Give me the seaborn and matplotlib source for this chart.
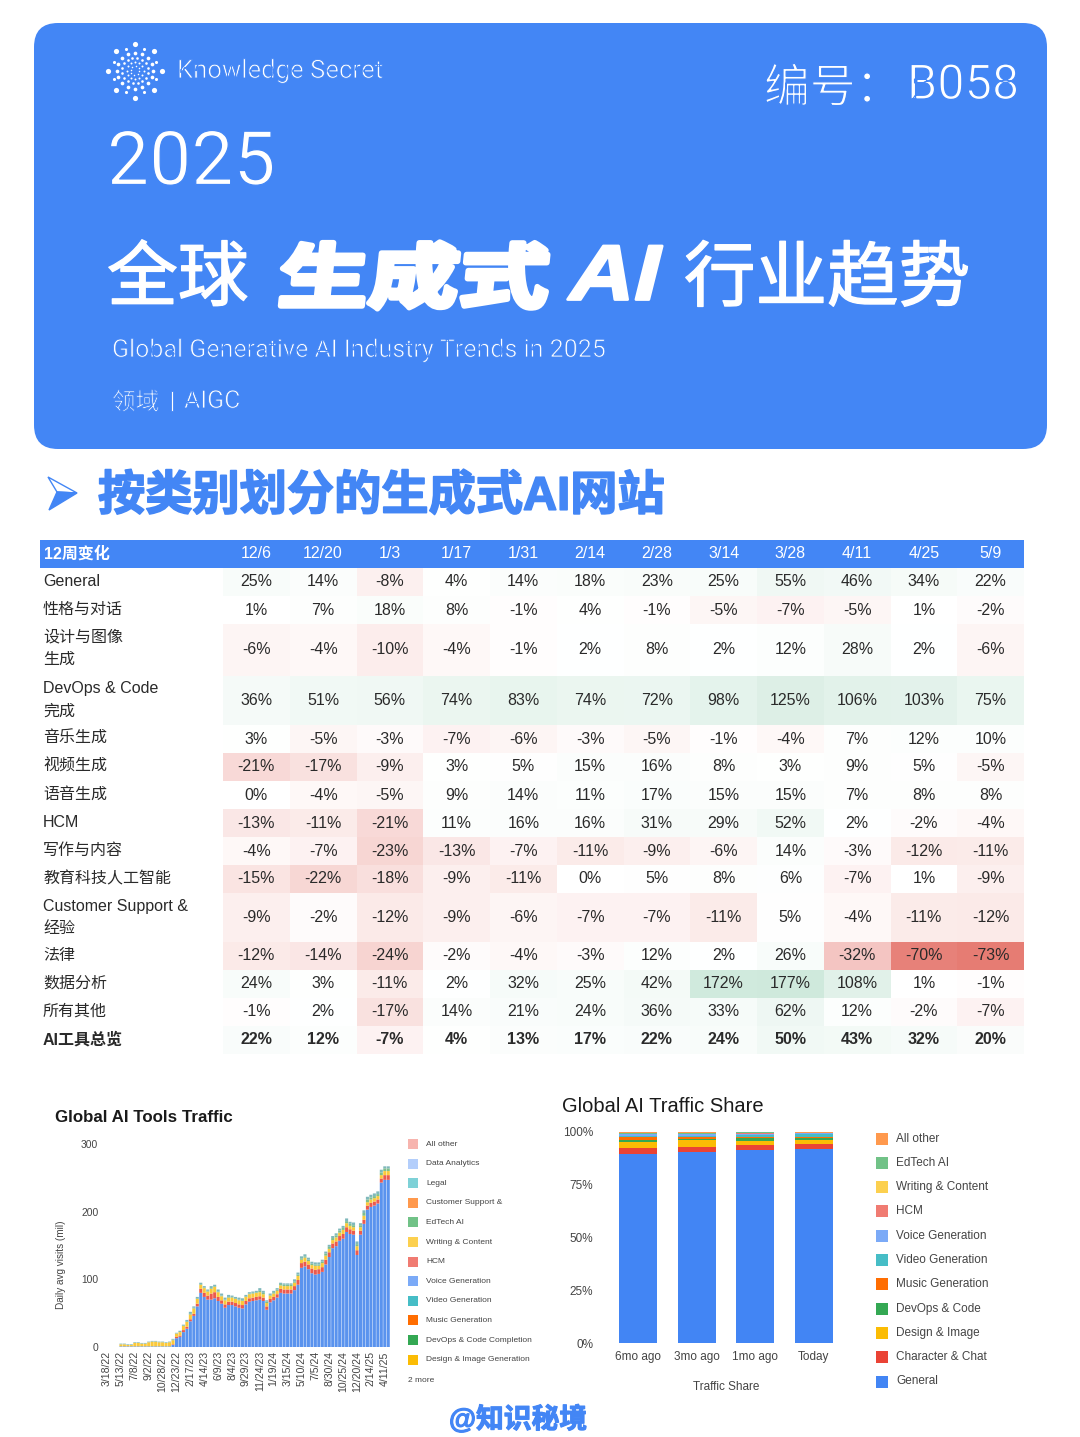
#!/usr/bin/env python3
"""Poster: 2025 global generative AI trends, table plus two traffic charts."""

import numpy as np
import pandas as pd
import matplotlib
matplotlib.use("Agg")
import matplotlib.pyplot as plt
import matplotlib.patheffects as pe
from matplotlib.colors import LinearSegmentedColormap, TwoSlopeNorm
from matplotlib.patches import FancyBboxPatch, Polygon, Rectangle
from matplotlib.transforms import Affine2D
import seaborn as sns

W, H = 1080, 1437
BLUE = "#4386f5"
CJK = ["Liberation Sans", "Noto Sans CJK SC", "DejaVu Sans"]
THIN = ["Roboto", "Noto Sans CJK SC", "DejaVu Sans"]

# 12 week change table
weeks = ["12/6", "12/20", "1/3", "1/17", "1/31", "2/14", "2/28", "3/14", "3/28", "4/11", "4/25", "5/9"]
row_labels = [
    "General", "性格与对话", "设计与图像\n生成", "DevOps & Code\n完成", "音乐生成", "视频生成", "语音生成",
    "HCM", "写作与内容", "教育科技人工智能", "Customer Support &\n经验", "法律", "数据分析", "所有其他", "AI工具总览",
]
general_chg = [25, 14, -8, 4, 14, 18, 23, 25, 55, 46, 34, 22]
character_chg = [1, 7, 18, 8, -1, 4, -1, -5, -7, -5, 1, -2]
design_chg = [-6, -4, -10, -4, -1, 2, 8, 2, 12, 28, 2, -6]
devops_chg = [36, 51, 56, 74, 83, 74, 72, 98, 125, 106, 103, 75]
music_chg = [3, -5, -3, -7, -6, -3, -5, -1, -4, 7, 12, 10]
video_chg = [-21, -17, -9, 3, 5, 15, 16, 8, 3, 9, 5, -5]
voice_chg = [0, -4, -5, 9, 14, 11, 17, 15, 15, 7, 8, 8]
hcm_chg = [-13, -11, -21, 11, 16, 16, 31, 29, 52, 2, -2, -4]
writing_chg = [-4, -7, -23, -13, -7, -11, -9, -6, 14, -3, -12, -11]
edtech_chg = [-15, -22, -18, -9, -11, 0, 5, 8, 6, -7, 1, -9]
support_chg = [-9, -2, -12, -9, -6, -7, -7, -11, 5, -4, -11, -12]
legal_chg = [-12, -14, -24, -2, -4, -3, 12, 2, 26, -32, -70, -73]
analytics_chg = [24, 3, -11, 2, 32, 25, 42, 172, 177, 108, 1, -1]
other_chg = [-1, 2, -17, 14, 21, 24, 36, 33, 62, 12, -2, -7]
total_chg = [22, 12, -7, 4, 13, 17, 22, 24, 50, 43, 32, 20]
table_rows = [
    general_chg, character_chg, design_chg, devops_chg, music_chg, video_chg, voice_chg, hcm_chg,
    writing_chg, edtech_chg, support_chg, legal_chg, analytics_chg, other_chg, total_chg,
]
row_edges = [568, 596, 624, 676, 725, 753, 781, 809, 837, 865, 893, 942, 970, 998, 1026, 1054]

# Global AI Tools Traffic, biweekly bars, first four periods are empty
tick_dates = [
    "3/18/22", "5/13/22", "7/8/22", "9/2/22", "10/28/22", "12/23/22", "2/17/23", "4/14/23", "6/9/23", "8/4/23",
    "9/29/23", "11/24/23", "1/19/24", "3/15/24", "5/10/24", "7/5/24", "8/30/24", "10/25/24", "12/20/24",
    "2/14/25", "4/11/25",
]
visits_general = [
    1, 1, 1, 1, 1, 1, 1, 1, 1, 1, 1, 1, 1, 1, 1, 3,
    13, 15, 22, 27, 38, 46, 60, 80, 74, 70, 70, 72, 68, 64, 58, 62, 62, 60, 58, 57, 63, 67, 68, 69,
    70, 68, 55, 66, 69, 73, 80, 79, 79, 79, 84, 92, 117, 119, 115, 109, 107, 108, 111, 122, 133, 146, 149,
    157, 160, 170, 167, 166, 136, 166, 182, 203, 207, 209, 212, 243, 247, 247,
]
visits_character = [
    0, 0, 0, 0, 0, 0, 0, 0, 0, 0, 0, 0, 0, 0, 0, 1,
    2, 2, 3, 3, 3, 3, 4, 6, 6, 6, 9, 9, 6, 5, 5, 5, 5, 5, 5, 5, 5, 5, 5, 5,
    5, 5, 5, 5, 5, 5, 6, 6, 6, 6, 6, 7, 7, 7, 7, 7, 7, 7, 7, 7, 7, 7, 7,
    7, 7, 7, 7, 6, 7, 6, 6, 6, 6, 6, 6, 6, 7, 7,
]
visits_design = [
    3, 3, 2, 2, 5, 5, 4, 4, 6, 7, 7, 6, 6, 5, 6, 6,
    5, 5, 6, 7, 7, 8, 7, 6, 7, 6, 7, 8, 7, 6, 6, 6, 6, 6, 6, 6, 6, 6, 6, 6,
    6, 5, 5, 5, 5, 5, 5, 5, 5, 5, 5, 6, 5, 6, 5, 5, 6, 5, 6, 6, 5, 5, 6,
    5, 6, 6, 5, 5, 6, 5, 6, 5, 5, 5, 5, 5, 6, 6,
]
visits_devops = [
    0, 0, 0, 0, 0, 0, 0, 0, 0, 0, 0, 0, 0, 0, 0, 1,
    0, 0, 1, 1, 1, 1, 1, 1, 1, 1, 1, 1, 1, 1, 1, 1, 1, 1, 1, 1, 1, 1, 1, 1,
    2, 2, 2, 1, 2, 2, 2, 2, 2, 2, 2, 2, 2, 2, 2, 2, 2, 2, 2, 3, 3, 3, 3,
    3, 3, 3, 3, 3, 3, 3, 4, 4, 3, 3, 3, 4, 4, 4,
]
visits_video = [
    1, 1, 1, 1, 1, 1, 1, 1, 1, 1, 1, 1, 1, 1, 1, 1,
    1, 2, 1, 2, 3, 2, 2, 2, 2, 2, 3, 2, 3, 3, 3, 3, 2, 2, 3, 3, 2, 2, 2, 2,
    4, 3, 2, 2, 2, 2, 2, 2, 2, 2, 3, 3, 3, 3, 3, 3, 3, 3, 3, 3, 3, 3, 3,
    3, 3, 4, 3, 4, 4, 3, 4, 4, 4, 4, 4, 4, 3, 3,
]
left_legend = [
    "All other", "Data Analytics", "Legal", "Customer Support &", "EdTech AI", "Writing & Content", "HCM",
    "Voice Generation", "Video Generation", "Music Generation", "DevOps & Code Completion",
    "Design & Image Generation",
]
left_legend_colors = [
    "#f7b4ae", "#b3cefb", "#7ed1d7", "#ff994d", "#71c287", "#fcd04f", "#f07b72",
    "#7baaf7", "#46bdc6", "#ff6d01", "#34a853", "#fbbc04",
]

# Global AI Traffic Share, top of the stack first
periods = ["6mo ago", "3mo ago", "1mo ago", "Today"]
share_names = [
    "All other", "EdTech AI", "Writing & Content", "HCM", "Voice Generation", "Video Generation",
    "Music Generation", "DevOps & Code", "Design & Image", "Character & Chat", "General",
]
share_colors = [
    "#ff994d", "#71c287", "#fcd04f", "#f07b72", "#7baaf7", "#46bdc6",
    "#ff6d01", "#34a853", "#fbbc04", "#ea4335", "#4285f4",
]
share_other = [0.7, 0.7, 0.5, 0.3]
share_edtech = [0.2, 0.2, 0.2, 0.1]
share_writing = [0.2, 0.2, 0.2, 0.2]
share_hcm = [0.2, 0.2, 0.2, 0.1]
share_voice = [0.7, 0.6, 0.5, 0.3]
share_video = [0.7, 0.7, 0.9, 1.2]
share_music = [1.2, 0.9, 0.8, 0.9]
share_devops = [0.8, 0.5, 1.1, 0.8]
share_design = [2.8, 3.1, 2.2, 1.9]
share_character = [3.2, 2.4, 2.4, 2.5]
share_general = [89.3, 90.5, 91.2, 91.6]

ERODE = [pe.Stroke(linewidth=0.6, foreground=BLUE)]
ERODE_BIG = [pe.Stroke(linewidth=0.9, foreground=BLUE)]
FATTEN = [pe.withStroke(linewidth=1.0, foreground="white")]


class Slanted(pe.AbstractPathEffect):
    """Widen, shear and thicken text about a display-space origin."""

    def __init__(self, origin, widen=1.0, deg=0.0, stroke=0.0):
        self.origin = origin
        self.widen = widen
        self.deg = deg
        self.stroke = stroke

    def draw_path(self, renderer, gc, tpath, affine, rgbFace=None):
        ox, oy = self.origin
        warp = Affine2D().translate(-ox, -oy).scale(self.widen, 1).skew_deg(self.deg, 0).translate(ox, oy)
        gc0 = renderer.new_gc()
        gc0.copy_properties(gc)
        gc0.set_linewidth(self.stroke)
        gc0.set_foreground(rgbFace)
        renderer.draw_path(gc0, tpath, affine + warp, rgbFace)
        gc0.restore()


def px_axes(fig, left, top, right, bottom, **kws):
    return fig.add_axes([left / W, 1 - bottom / H, (right - left) / W, (bottom - top) / H], **kws)


def draw_logo(bg):
    # concentric rings of dots
    cx, cy = 135, 70.5
    for radius, count, size, turn in [(27, 8, 14, 0), (23, 8, 5, 22.5), (18, 16, 7, 0),
                                      (13, 16, 3.5, 11), (8.5, 12, 2, 0), (4.5, 8, 1.2, 10)]:
        ang = np.radians(np.arange(count) * 360 / count + turn)
        bg.scatter(cx + radius * np.cos(ang), cy + radius * np.sin(ang), s=size, c="white", linewidths=0)


def draw_header(bg):
    bg.add_patch(FancyBboxPatch((34, 23), 1013, 426, boxstyle="round,pad=0,rounding_size=24", fc=BLUE, ec="none"))
    draw_logo(bg)
    bg.text(177, 71, "Knowledge Secret", color="white", family=THIN, size=18.5, va="center", path_effects=ERODE)
    bg.text(764, 89, "编号：", color="white", family=THIN, size=33, va="center", path_effects=ERODE_BIG)
    bg.text(907, 86, "B058", color="white", family=THIN, size=35, va="center", path_effects=ERODE_BIG)
    bg.text(107, 164, "2025", color="white", family=THIN, size=54, va="center", path_effects=ERODE_BIG)
    bg.text(107, 282, "全球", color="white", family=CJK, size=51, va="center", path_effects=FATTEN)
    bg.text(275, 282, "生成式", color="white", family=CJK, weight="bold", size=50, va="center",
            path_effects=[Slanted((275, H - 315), widen=1.3, deg=6, stroke=4)])
    bg.text(564, 279, "AI", color="white", family=CJK, weight="bold", size=56, va="center",
            path_effects=[Slanted((564, H - 305), widen=1.15, deg=14, stroke=2)])
    bg.text(684, 282, "行业趋势", color="white", family=CJK, size=51.5, va="center", path_effects=FATTEN)
    bg.text(112, 350, "Global Generative AI Industry Trends in 2025", color="white",
            family=THIN, size=18, va="center", path_effects=ERODE)
    bg.text(112, 403, "领域", color="white", family=THIN, size=17, va="center", path_effects=ERODE)
    bg.text(169, 401, "|", color="white", family=THIN, size=17, va="center", path_effects=ERODE)
    bg.text(184, 401, "AIGC", color="white", family=THIN, size=18, va="center", path_effects=ERODE)


def draw_section_title(bg):
    # the arrow glyph: thin outline on the upper half, filled lower half
    bg.add_patch(Polygon([[48, 477], [77, 493], [57, 492]], closed=True, fc="white", ec=BLUE, lw=1))
    bg.add_patch(Polygon([[57, 492], [77, 493], [49, 510]], closed=True, fc=BLUE, ec=BLUE, lw=1))
    bg.text(98, 497, "按类别划分的生成式AI网站", color=BLUE, family=CJK, weight="bold", size=34, va="center",
            path_effects=[pe.withStroke(linewidth=1.2, foreground=BLUE)])


def draw_table(fig, bg):
    bg.add_patch(Rectangle((40, 540), 984, 28, fc=BLUE, ec="none"))
    bg.text(44, 554, "12周变化", color="white", family=CJK, weight="bold", size=11.5, va="center")
    for i, week in enumerate(weeks):
        bg.text(223 + 66.75 * (i + 0.5), 554, week, color="white", family=CJK, size=11.5, ha="center", va="center")

    cmap = LinearSegmentedColormap.from_list("chg", ["#e4736a", "#ffffff", "#cfe9dc"])
    norm = TwoSlopeNorm(vmin=-78, vcenter=0, vmax=177)
    for r, (label, values) in enumerate(zip(row_labels, table_rows)):
        top, bottom = row_edges[r], row_edges[r + 1]
        is_total = r == len(row_labels) - 1
        ax = px_axes(fig, 223, top, 1024, bottom)
        cell_text = np.array([[f"{v}%" for v in values]])
        sns.heatmap(
            pd.DataFrame([values], columns=weeks), ax=ax, cmap=cmap, norm=norm, cbar=False,
            annot=cell_text, fmt="", xticklabels=False, yticklabels=False,
            annot_kws={"family": CJK, "size": 11.5, "color": "#2a2a2a", "weight": "bold" if is_total else "normal"},
        )
        ax.set_xlabel("")
        ax.set_ylabel("")
        lines = label.split("\n")
        if len(lines) == 1:
            bg.text(43, (top + bottom) / 2 - 0.5, label, family=CJK, size=11.5, color="#2a2a2a", va="center",
                    weight="bold" if is_total else "normal")
        else:
            bg.text(43, top + 13, lines[0], family=CJK, size=11.5, color="#2a2a2a", va="center")
            bg.text(43, top + 35, lines[1], family=CJK, size=11.5, color="#2a2a2a", va="center")


def draw_traffic(fig, bg):
    ax = px_axes(fig, 105.3, 1144, 390, 1347)
    layers = pd.DataFrame({
        "period": np.arange(4, 82),
        "Video": visits_video,
        "DevOps": visits_devops,
        "Design": visits_design,
        "Character": visits_character,
        "General": visits_general,
    }).melt(id_vars="period", var_name="layer", value_name="visits")
    sns.histplot(
        layers, x="period", hue="layer", weights="visits", multiple="stack", discrete=True, shrink=0.88,
        hue_order=["Video", "DevOps", "Design", "Character", "General"],
        palette=["#7fb8bb", "#7fbf8b", "#fbc93a", "#ec5a4d", "#5a93ee"],
        alpha=1, linewidth=0, legend=False, ax=ax,
    )
    for bar in ax.patches:
        bar.set_snap(False)
    ax.set_xlim(-0.5, 81.5)
    ax.set_ylim(0, 300)
    ax.set_xticks(np.arange(0, 82, 4))
    ax.set_xticklabels(tick_dates, rotation=90, family=CJK, fontsize=7.6, color="#444444")
    ax.set_yticks([0, 100, 200, 300])
    ax.set_yticklabels(["0", "100", "200", "300"], family=CJK, fontsize=7.4, color="#444444")
    ax.tick_params(length=0, pad=3, axis="x")
    ax.tick_params(length=0, pad=5, axis="y")
    ax.set_xlabel("")
    ax.set_ylabel("")
    sns.despine(ax=ax, left=True, bottom=True)
    ax.patch.set_alpha(0)

    bg.text(55, 1118, "Global AI Tools Traffic", family=CJK, weight="bold", size=12.2, color="#1a1a1a", va="center")
    bg.text(61, 1265, "Daily avg visits (mil)", family=CJK, size=7.2, color="#444444", rotation=90,
            ha="center", va="center")
    for i, (name, color) in enumerate(zip(left_legend, left_legend_colors)):
        y = 1144 + 19.6 * i
        bg.add_patch(Rectangle((408, y - 5), 10, 10, fc=color, ec="none"))
        bg.text(426, y, name, family=CJK, size=6, color="#444444", va="center")
    bg.text(408, 1380, "2 more", family=CJK, size=6, color="#444444", va="center")


def draw_share(fig, bg):
    ax = px_axes(fig, 608.7, 1131.7, 843, 1343)
    series = [share_other, share_edtech, share_writing, share_hcm, share_voice, share_video,
              share_music, share_devops, share_design, share_character, share_general]
    rows = []
    for name, values in zip(share_names, series):
        for period, value in zip(periods, values):
            rows.append({"period": period, "layer": name, "share": value})
    sns.histplot(
        pd.DataFrame(rows), x="period", hue="layer", weights="share", multiple="stack", discrete=True,
        shrink=0.65, hue_order=share_names, palette=share_colors, alpha=1, linewidth=0, legend=False, ax=ax,
    )
    ax.set_xlim(-0.5, 3.5)
    ax.set_ylim(0, 100)
    ax.set_xticks(range(4))
    ax.set_xticklabels(periods, family=CJK, fontsize=8.5, color="#444444")
    ax.set_yticks([0, 25, 50, 75, 100])
    ax.set_yticklabels(["0%", "25%", "50%", "75%", "100%"], family=CJK, fontsize=8.5, color="#444444")
    ax.tick_params(length=0, pad=11.3, axis="y")
    ax.tick_params(length=0, pad=5.5, axis="x")
    ax.set_xlabel("")
    ax.set_ylabel("")
    sns.despine(ax=ax, left=True, bottom=True)
    ax.patch.set_alpha(0)

    bg.text(562, 1106, "Global AI Traffic Share", family=CJK, size=14.5, color="#1a1a1a", va="center")
    bg.text(726, 1387, "Traffic Share", family=CJK, size=8.5, color="#444444", ha="center", va="center")
    for i, (name, color) in enumerate(zip(share_names, share_colors)):
        y = 1138.5 + 24.3 * i
        bg.add_patch(Rectangle((876, y - 6), 12, 12, fc=color, ec="none"))
        bg.text(896, y, name, family=CJK, size=8.5, color="#444444", va="center")


def main():
    sns.set_theme(style="white")
    plt.rcParams["font.family"] = CJK

    fig = plt.figure(figsize=(W / 100, H / 100), dpi=100, facecolor="white")
    bg = fig.add_axes([0, 0, 1, 1])
    bg.set_xlim(0, W)
    bg.set_ylim(H, 0)
    bg.axis("off")

    draw_header(bg)
    draw_section_title(bg)
    draw_table(fig, bg)
    draw_traffic(fig, bg)
    draw_share(fig, bg)
    bg.text(518, 1420, "@知识秘境", color=BLUE, family=CJK, weight="bold", size=20, ha="center", va="center",
            path_effects=[pe.withStroke(linewidth=0.8, foreground=BLUE)])

    fig.savefig("out.png", dpi=100)


if __name__ == "__main__":
    main()
